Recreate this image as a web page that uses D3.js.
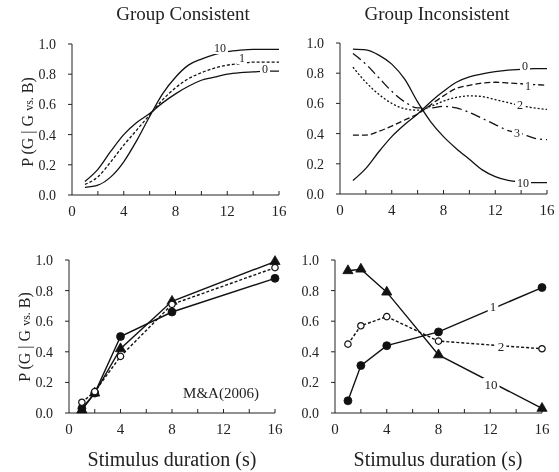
<!doctype html>
<html>
<head>
<meta charset="utf-8">
<style>
body { margin: 0; background: white; }
svg { will-change: transform; }
text { font-family: "Liberation Serif", "DejaVu Serif", serif; fill: #222; }
</style>
<script src="https://cdnjs.cloudflare.com/ajax/libs/d3/7.8.5/d3.min.js"></script>
</head>
<body>
<div id="chart"></div>
<script>
// stimulus durations
var xCurve = [1, 2, 3, 4, 5, 6, 7, 8, 9, 10, 11, 12, 13, 14, 15, 16];
var xData = [1, 2, 4, 8, 16];
var xTicks = [0, 2, 4, 6, 8, 10, 12, 14, 16];
var xTickLabels = [0, 4, 8, 12, 16];
var yTicks = [0, 0.2, 0.4, 0.6, 0.8, 1.0];

// model, group consistent
var consist0 = [0.09, 0.17, 0.29, 0.40, 0.48, 0.54, 0.61, 0.67, 0.72, 0.76, 0.78, 0.80, 0.81, 0.815, 0.82, 0.82];
var consist1 = [0.07, 0.12, 0.22, 0.33, 0.43, 0.53, 0.63, 0.71, 0.77, 0.81, 0.84, 0.86, 0.87, 0.88, 0.88, 0.88];
var consist10 = [0.05, 0.065, 0.12, 0.22, 0.36, 0.52, 0.67, 0.78, 0.86, 0.90, 0.93, 0.95, 0.96, 0.965, 0.965, 0.965];

// model, group inconsistent
var incons0 = [0.09, 0.17, 0.28, 0.38, 0.46, 0.53, 0.61, 0.68, 0.74, 0.775, 0.795, 0.81, 0.82, 0.825, 0.83, 0.83];
var incons1 = [0.39, 0.39, 0.415, 0.45, 0.49, 0.53, 0.59, 0.65, 0.70, 0.72, 0.735, 0.74, 0.735, 0.73, 0.725, 0.72];
var incons2 = [0.84, 0.74, 0.66, 0.60, 0.565, 0.555, 0.58, 0.615, 0.64, 0.65, 0.645, 0.625, 0.605, 0.585, 0.57, 0.56];
var incons3 = [0.93, 0.86, 0.77, 0.68, 0.61, 0.57, 0.57, 0.58, 0.57, 0.54, 0.50, 0.46, 0.42, 0.40, 0.37, 0.36];
var incons10 = [0.96, 0.955, 0.92, 0.86, 0.76, 0.61, 0.48, 0.38, 0.30, 0.23, 0.16, 0.115, 0.09, 0.08, 0.075, 0.075];

// M&A(2006) data, consistent
var maCircle = [0.03, 0.13, 0.50, 0.66, 0.88];
var maTriangle = [0.02, 0.13, 0.42, 0.73, 0.99];
var maOpen = [0.07, 0.14, 0.37, 0.71, 0.95];

// data, inconsistent
var incTriangle = [0.93, 0.94, 0.79, 0.38, 0.03];
var incCircle = [0.08, 0.31, 0.44, 0.53, 0.82];
var incOpen = [0.45, 0.57, 0.63, 0.47, 0.42];

var width = 559, height = 472;
var svg = d3.select("#chart").append("svg")
	.attr("width", width)
	.attr("height", height);

function panel(x0, x1, y0, y1) {
	var p = {
		x: d3.scaleLinear().domain([0, 16]).range([x0, x1]),
		y: d3.scaleLinear().domain([0, 1]).range([y0, y1]),
		g: svg.append("g")
	};
	var g = p.g;
	// axis lines
	g.append("line").attr("x1", x0).attr("x2", x0).attr("y1", y0).attr("y2", y1)
		.attr("stroke", "#222").attr("stroke-width", 1);
	g.append("line").attr("x1", x0).attr("x2", x1).attr("y1", y0).attr("y2", y0)
		.attr("stroke", "#222").attr("stroke-width", 1);
	// y ticks, outward
	g.selectAll(".yt").data(yTicks).enter().append("line")
		.attr("x1", x0 - 4).attr("x2", x0)
		.attr("y1", function(d) { return p.y(d); }).attr("y2", function(d) { return p.y(d); })
		.attr("stroke", "#222");
	g.selectAll(".yl").data(yTicks).enter().append("text")
		.attr("x", x0 - 16).attr("y", function(d) { return p.y(d) + 5; })
		.attr("text-anchor", "end").attr("font-size", 14)
		.text(function(d) { return d.toFixed(1); });
	// x ticks, inward
	g.selectAll(".xt").data(xTicks.slice(1)).enter().append("line")
		.attr("x1", function(d) { return p.x(d); }).attr("x2", function(d) { return p.x(d); })
		.attr("y1", y0).attr("y2", y0 - 4)
		.attr("stroke", "#222");
	g.selectAll(".xl").data(xTickLabels).enter().append("text")
		.attr("x", function(d) { return p.x(d); }).attr("y", y0 + 21)
		.attr("text-anchor", "middle").attr("font-size", 15)
		.text(function(d) { return d; });
	return p;
}

function curve(p, ys, dash) {
	var line = d3.line()
		.x(function(d, i) { return p.x(xCurve[i]); })
		.y(function(d) { return p.y(d); })
		.curve(d3.curveMonotoneX);
	p.g.append("path").datum(ys).attr("d", line)
		.attr("fill", "none").attr("stroke", "#111").attr("stroke-width", 1.3)
		.attr("stroke-dasharray", dash || null);
}

function dataLine(p, ys, dash) {
	var line = d3.line()
		.x(function(d, i) { return p.x(xData[i]); })
		.y(function(d) { return p.y(d); });
	p.g.append("path").datum(ys).attr("d", line)
		.attr("fill", "none").attr("stroke", "#111").attr("stroke-width", 1.4)
		.attr("stroke-dasharray", dash || null);
}

function markers(p, ys, kind) {
	var sym = kind == "triangle" ? d3.symbolTriangle : d3.symbolCircle;
	var size = kind == "triangle" ? 45 : (kind == "open" ? 32 : 50);
	p.g.append("g").selectAll("path").data(ys).enter().append("path")
		.attr("d", d3.symbol().type(sym).size(size))
		.attr("transform", function(d, i) { return "translate(" + p.x(xData[i]) + "," + p.y(d) + ")"; })
		.attr("fill", kind == "open" ? "white" : "#111")
		.attr("stroke", "#111").attr("stroke-width", kind == "open" ? 1.2 : 0.8);
}

// line label with a white gap behind it
function label(p, px, py, txt, size) {
	var t = p.g.append("text").attr("x", px).attr("y", py)
		.attr("text-anchor", "middle").attr("font-size", size || 12)
		.text(txt);
	var b = t.node().getBBox();
	p.g.insert("rect", function() { return t.node(); })
		.attr("x", b.x - 2).attr("y", b.y + 1)
		.attr("width", b.width + 4).attr("height", b.height - 2)
		.attr("fill", "white");
}

function yTitle(cx, cy) {
	var t = svg.append("text")
		.attr("transform", "translate(" + cx + "," + cy + ") rotate(-90)")
		.attr("text-anchor", "middle").attr("font-size", 16);
	t.append("tspan").text("P (G | G ");
	t.append("tspan").attr("font-size", 12).text("vs.");
	t.append("tspan").text(" B)");
}

// panels
var tl = panel(72, 279, 195, 44);
var tr = panel(340, 547, 194, 43);
var bl = panel(69, 275, 413, 260);
var br = panel(335, 542, 413, 260);

// titles
svg.append("text").attr("x", 183).attr("y", 20).attr("text-anchor", "middle")
	.attr("font-size", 19).text("Group Consistent");
svg.append("text").attr("x", 437).attr("y", 20).attr("text-anchor", "middle")
	.attr("font-size", 19).text("Group Inconsistent");
yTitle(33, 122);
yTitle(30, 337);
svg.append("text").attr("x", 172).attr("y", 466).attr("text-anchor", "middle")
	.attr("font-size", 20).text("Stimulus duration (s)");
svg.append("text").attr("x", 438).attr("y", 466).attr("text-anchor", "middle")
	.attr("font-size", 20).text("Stimulus duration (s)");

// top left
curve(tl, consist0);
curve(tl, consist1, "3,2");
curve(tl, consist10);
label(tl, 220, 52, "10");
label(tl, 242, 62, "1");
label(tl, 265, 73, "0");

// top right
curve(tr, incons0);
curve(tr, incons1, "6,3");
curve(tr, incons2, "2,2");
curve(tr, incons3, "10,4,2,4");
curve(tr, incons10);
label(tr, 525, 70, "0");
label(tr, 528, 90, "1");
label(tr, 520, 109, "2");
label(tr, 517, 137, "3");
label(tr, 523, 187, "10");

// bottom left
dataLine(bl, maCircle);
dataLine(bl, maTriangle);
dataLine(bl, maOpen, "3,2");
markers(bl, maCircle, "circle");
markers(bl, maTriangle, "triangle");
markers(bl, maOpen, "open");
svg.append("text").attr("x", 221).attr("y", 398).attr("text-anchor", "middle")
	.attr("font-size", 15).text("M&A(2006)");

// bottom right
dataLine(br, incTriangle);
dataLine(br, incCircle);
dataLine(br, incOpen, "3,2");
markers(br, incTriangle, "triangle");
markers(br, incCircle, "circle");
markers(br, incOpen, "open");
label(br, 493, 311, "1", 13);
label(br, 501, 351, "2", 13);
label(br, 491, 389, "10", 13);
</script>
</body>
</html>
